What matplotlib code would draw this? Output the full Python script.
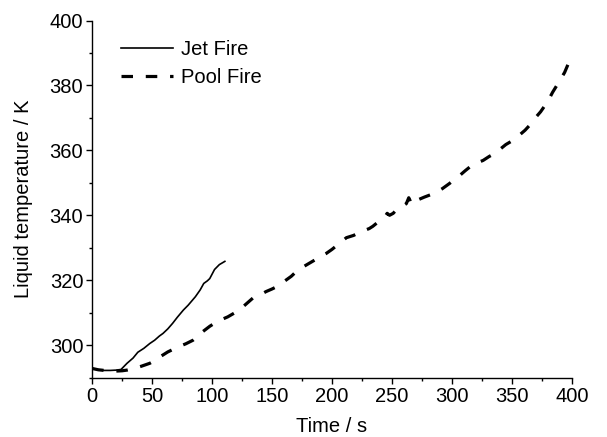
import matplotlib
matplotlib.use("Agg")
from matplotlib import pyplot as plt
from matplotlib.ticker import MultipleLocator

plt.rcParams["font.family"] = ["Liberation Sans", "DejaVu Sans"]

# jet fire (solid)
tJet = [0, 5, 10, 15, 20, 24, 29, 34, 38, 43, 48, 52, 56, 59, 63, 67, 71,
        76, 80, 86, 90, 93, 96, 98, 102, 106, 110.6]
TJet = [292.8, 292.4, 292.2, 292.2, 292.3, 292.5, 294.4, 296.0, 297.8, 299.0,
        300.5, 301.5, 302.8, 303.6, 305.0, 306.7, 308.6, 310.8, 312.3, 314.9,
        317.0, 319.0, 319.8, 320.5, 323.3, 324.8, 325.8]

# pool fire (dashed)
tPool = [0, 5, 10, 15, 20, 25, 29, 35, 41, 48, 52, 57, 63, 68, 72, 78, 84, 88,
         92, 98, 104, 108, 113, 120, 126, 130, 134, 140, 145, 150, 155, 160,
         166, 170, 175, 180, 186, 190, 195, 200, 206, 212, 218, 224, 231, 234,
         240, 244, 246, 248, 251, 254, 258, 262, 264, 265, 266, 270, 277, 282,
         286, 292, 298, 302, 306, 311, 316, 320, 326, 331, 337, 341, 345, 351,
         356, 361, 366, 370, 374, 377, 381, 384, 387, 390, 394, 398]
TPool = [292.8, 292.4, 292.2, 292.1, 292.0, 292.1, 292.3, 292.8, 293.5, 294.4,
         295.2, 296.5, 297.9, 298.8, 299.5, 300.4, 301.5, 302.7, 304.1, 305.8,
         307.2, 307.9, 308.7, 310.2, 311.9, 313.2, 314.5, 315.5, 316.5, 317.3,
         318.2, 319.6, 321.2, 322.6, 323.9, 325.0, 326.3, 327.2, 328.2, 329.5,
         331.3, 333.1, 333.8, 334.9, 335.9, 336.6, 338.4, 339.5, 340.6, 340.0,
         340.6, 341.8, 342.6, 343.6, 345.4, 344.6, 343.4, 344.5, 345.6, 346.3,
         346.9, 348.2, 349.8, 351.0, 352.1, 353.7, 355.2, 356.0, 356.9, 358.1,
         359.3, 360.6, 361.8, 363.1, 364.6, 366.2, 368.2, 370.2, 371.9, 373.5,
         375.8, 377.9, 379.7, 381.5, 384.0, 387.5]

fig = plt.figure(figsize=(6.07, 4.37), dpi=100)
ax = fig.add_axes([0.152, 0.136, 0.790, 0.817])

ax.plot(tJet, TJet, color="black", linewidth=1.2, label="Jet Fire")
ax.plot(tPool, TPool, color="black", linewidth=2.3, linestyle=(0, (3.6, 4.0)),
        label="Pool Fire")

ax.set_xlim(0, 400)
ax.set_ylim(290, 400)
ax.xaxis.set_major_locator(MultipleLocator(50))
ax.xaxis.set_minor_locator(MultipleLocator(25))
ax.yaxis.set_major_locator(MultipleLocator(20))
ax.yaxis.set_minor_locator(MultipleLocator(10))

ax.spines["top"].set_visible(False)
ax.spines["right"].set_visible(False)
for s in ["left", "bottom"]:
    ax.spines[s].set_linewidth(1.0)
ax.tick_params(which="major", direction="out", length=4.5, width=1.0,
               labelsize=14.5, pad=2)
ax.tick_params(which="minor", direction="out", length=2.5, width=1.0)

ax.set_xlabel("Time / s", fontsize=14.5, labelpad=8)
ax.set_ylabel("Liquid temperature / K", fontsize=14.5, labelpad=12)

ax.legend(loc="upper left", frameon=False, fontsize=14.5, handlelength=2.6,
          handletextpad=0.4, labelspacing=0.45, borderaxespad=0.3,
          bbox_to_anchor=(0.03, 0.985))

plt.savefig("out.png", dpi=100)
